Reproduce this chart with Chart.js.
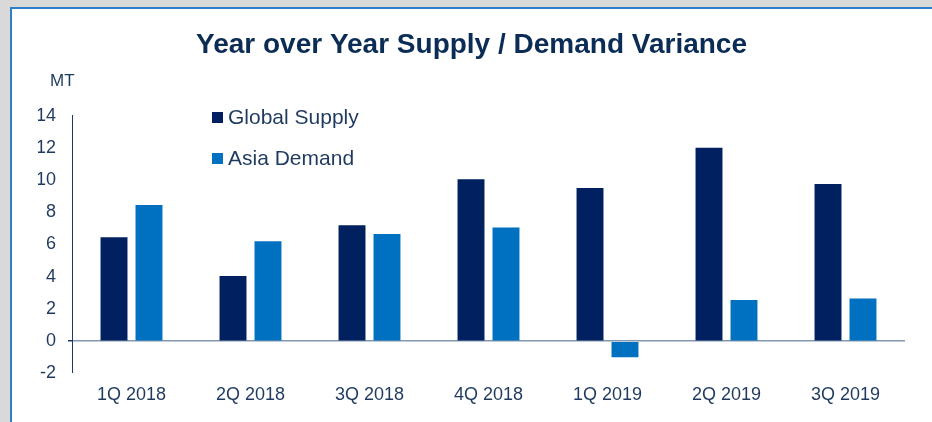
<!DOCTYPE html>
<html>
<head>
<meta charset="utf-8">
<script src="https://cdn.jsdelivr.net/npm/chart.js@4/dist/chart.umd.min.js"></script>
<style>
  html, body { margin: 0; padding: 0; background: #d9d9d9; }
  .page { position: relative; width: 932px; height: 422px; overflow: hidden; }
  .panel {
    position: absolute; left: 10px; top: 7px; right: 0; bottom: 0;
    background: #fff;
    border-left: 2px solid #2e7fc9;
    border-top: 2px solid #2e7fc9;
  }
  #chart { position: absolute; left: 0; top: 0; }
</style>
</head>
<body>
<div class="page">
  <div class="panel"></div>
  <canvas id="chart" width="932" height="422"></canvas>
</div>
<script>
// 분기 라벨
var QUARTERS = ["1Q 2018", "2Q 2018", "3Q 2018", "4Q 2018", "1Q 2019", "2Q 2019", "3Q 2019"];

// 값 (MT)
var GLOBAL_SUPPLY = [6.45, 4.05, 7.2, 10.05, 9.5, 12.0, 9.75];
var ASIA_DEMAND   = [8.45, 6.2, 6.65, 7.05, -1.0, 2.55, 2.65];

// y축 눈금
var Y_TICKS = [-2, 0, 2, 4, 6, 8, 10, 12, 14];

var TEXT_COLOR = "#1f3a5f";
var FONT = "'Liberation Sans', Arial, sans-serif";

// 범례: 차트 영역 안쪽에 세로로 그림
var legendInside = {
  id: "legendInside",
  afterDraw: function (chart) {
    var ctx = chart.ctx;
    var sets = chart.data.datasets;
    ctx.save();
    ctx.font = "21px " + FONT;
    ctx.textBaseline = "middle";
    for (var i = 0; i < sets.length; i++) {
      var y = 117.5 + i * 41;
      ctx.fillStyle = sets[i].backgroundColor;
      ctx.fillRect(212, y - 5.5, 11, 11);
      ctx.fillStyle = TEXT_COLOR;
      ctx.fillText(sets[i].label, 228, y + 1);
    }
    ctx.restore();
  }
};

// y축 단위 "MT"
var unitLabel = {
  id: "unitLabel",
  afterDraw: function (chart) {
    var ctx = chart.ctx;
    ctx.save();
    ctx.font = "17px " + FONT;
    ctx.fillStyle = TEXT_COLOR;
    ctx.textBaseline = "middle";
    ctx.fillText("MT", 50, 81);
    ctx.restore();
  }
};

var ctx = document.getElementById("chart").getContext("2d");
new Chart(ctx, {
  type: "bar",
  data: {
    labels: QUARTERS,
    datasets: [
      { label: "Global Supply", data: GLOBAL_SUPPLY, backgroundColor: "#002060" },
      { label: "Asia Demand",   data: ASIA_DEMAND,   backgroundColor: "#0070c0" }
    ]
  },
  options: {
    responsive: false,
    animation: false,
    categoryPercentage: 0.588,
    barPercentage: 0.77,
    // 왼쪽 여백은 제목을 가운데에 맞추기 위함 (y축 폭은 afterFit에서 보정)
    layout: { padding: { left: 38, right: 27, top: 0, bottom: 5 } },
    plugins: {
      legend: { display: false },
      tooltip: { enabled: false },
      title: {
        display: true,
        text: "Year over Year Supply / Demand Variance",
        color: "#0b2d55",
        font: { family: FONT, size: 28, weight: "bold" },
        padding: { top: 28, bottom: 54 }
      }
    },
    scales: {
      x: {
        grid: { display: false, drawTicks: false },
        border: { display: false },
        ticks: {
          color: TEXT_COLOR,
          padding: 11,
          font: { family: FONT, size: 18 }
        }
      },
      y: {
        min: -2,
        max: 14,
        afterBuildTicks: function (scale) {
          scale.ticks = Y_TICKS.map(function (v) { return { value: v }; });
        },
        afterFit: function (scale) { scale.width = 34; },
        grid: {
          drawOnChartArea: true,
          tickLength: 4,
          tickColor: TEXT_COLOR,
          lineWidth: function (c) { return c.tick && c.tick.value === 0 ? 1.5 : 0; },
          color: function (c) { return c.tick && c.tick.value === 0 ? "#8497b0" : "rgba(0,0,0,0)"; }
        },
        border: { display: true, color: TEXT_COLOR, width: 1 },
        ticks: {
          color: TEXT_COLOR,
          padding: 12,
          font: { family: FONT, size: 18 }
        }
      }
    }
  },
  plugins: [legendInside, unitLabel]
});
</script>
</body>
</html>
